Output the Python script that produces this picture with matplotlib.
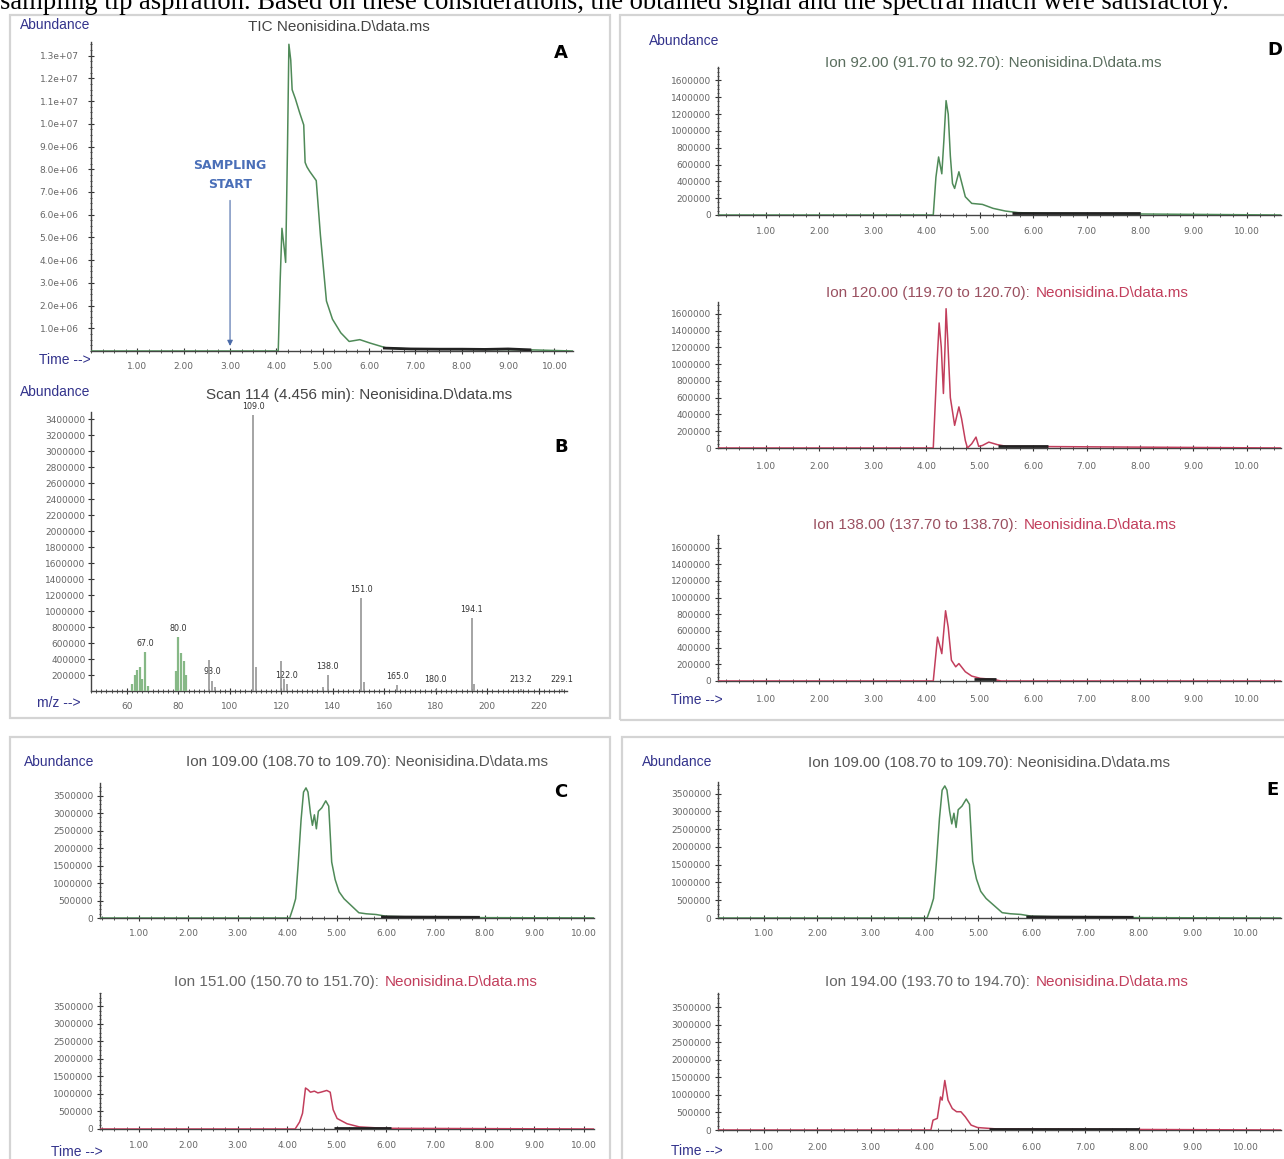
import numpy as np
import matplotlib
matplotlib.use('Agg')
import matplotlib.pyplot as plt
from matplotlib.ticker import MultipleLocator, AutoMinorLocator
from matplotlib.patches import Rectangle

# ---- data ----
# A: TIC
tic_t = [0.0, 4.04, 4.08, 4.12, 4.17, 4.20, 4.24, 4.27, 4.31, 4.34, 4.41, 4.50, 4.59, 4.62, 4.66, 4.72,
         4.86, 4.95, 5.08, 5.21, 5.39, 5.57, 5.80, 6.02, 6.38, 6.90, 7.50, 8.50, 9.50, 10.40]
tic_v = [0, 0, 3.0e6, 5.4e6, 4.5e6, 3.9e6, 9.0e6, 13.5e6, 12.8e6, 11.5e6, 11.1e6, 10.5e6, 9.95e6, 8.3e6, 8.1e6, 7.9e6,
         7.5e6, 5.1e6, 2.2e6, 1.4e6, 0.8e6, 0.42e6, 0.5e6, 0.35e6, 0.13e6, 0.09e6, 0.08e6, 0.07e6, 0.05e6, 0]
tic_dark_t = [6.3, 6.9, 7.5, 8.0, 8.5, 9.0, 9.5]
tic_dark_v = [0.13e6, 0.09e6, 0.08e6, 0.08e6, 0.07e6, 0.09e6, 0.05e6]

# B: mass spectrum, scan 114
mz = [62, 63, 64, 65, 66, 67, 68, 79, 80, 81, 82, 83, 92, 93, 94, 109, 110, 120, 121, 122,
      136, 138, 151, 152, 165, 180, 194, 195, 213, 229]
ab = [90e3, 200e3, 260e3, 300e3, 150e3, 487e3, 60e3, 250e3, 675e3, 470e3, 380e3, 200e3, 383e3, 130e3, 50e3,
      3.45e6, 300e3, 380e3, 150e3, 90e3, 50e3, 196e3, 1.167e6, 112e3, 70e3, 30e3, 917e3, 92e3, 30e3, 30e3]
green_mz = [62, 63, 64, 65, 66, 67, 68, 79, 80, 81, 82, 83]
peak_mz = [67, 80, 93, 109, 122, 138, 151, 165, 180, 194, 213, 229]
peak_lab = ['67.0', '80.0', '93.0', '109.0', '122.0', '138.0', '151.0', '165.0', '180.0', '194.1', '213.2', '229.1']

# D: ion 92, 120, 138
ion92_t = [0.1, 4.13, 4.18, 4.23, 4.29, 4.33, 4.37, 4.41, 4.45, 4.49, 4.53, 4.61, 4.65, 4.73, 4.85, 5.05,
           5.25, 5.48, 5.72, 6.20, 10.64]
ion92_v = [0, 0, 0.45e6, 0.69e6, 0.49e6, 0.9e6, 1.36e6, 1.2e6, 0.7e6, 0.375e6, 0.316e6, 0.514e6, 0.415e6,
           0.217e6, 0.138e6, 0.126e6, 0.079e6, 0.047e6, 0.028e6, 0.02e6, 0]
ion92_dark_t = [5.6, 8.0]
ion92_dark_v = [0.02e6, 0.02e6]

ion120_t = [0.1, 4.13, 4.20, 4.24, 4.28, 4.32, 4.35, 4.37, 4.40, 4.45, 4.53, 4.61, 4.66, 4.73, 4.77, 4.85,
            4.93, 4.98, 5.05, 5.17, 5.33, 5.50, 10.64]
ion120_v = [0, 0, 1.0e6, 1.49e6, 1.2e6, 0.65e6, 1.2e6, 1.66e6, 1.3e6, 0.6e6, 0.27e6, 0.49e6, 0.35e6, 0.09e6,
            0.0, 0.05e6, 0.13e6, 0.02e6, 0.03e6, 0.07e6, 0.04e6, 0.02e6, 0]
ion120_dark_t = [5.35, 6.28]
ion120_dark_v = [0.02e6, 0.02e6]

ion138_t = [0.1, 4.13, 4.21, 4.29, 4.36, 4.41, 4.47, 4.55, 4.61, 4.73, 4.85, 5.01, 5.25, 5.40, 10.64]
ion138_v = [0, 0, 0.526e6, 0.328e6, 0.842e6, 0.644e6, 0.249e6, 0.17e6, 0.209e6, 0.111e6, 0.059e6,
            0.032e6, 0.02e6, 0.0, 0]
ion138_dark_t = [4.9, 5.3]
ion138_dark_v = [0.02e6, 0.02e6]

# C and E: ion 109, 151, 194
ion109_t = [0.0, 4.05, 4.12, 4.17, 4.22, 4.28, 4.33, 4.38, 4.42, 4.47, 4.51, 4.55, 4.59, 4.63, 4.70, 4.78,
            4.84, 4.90, 4.97, 5.05, 5.15, 5.30, 5.45, 5.60, 5.80, 6.00, 6.50, 7.00, 8.00, 10.7]
ion109_v = [0, 0, 0.3e6, 0.55e6, 1.5e6, 2.8e6, 3.6e6, 3.72e6, 3.6e6, 3.0e6, 2.65e6, 2.95e6, 2.55e6, 3.05e6,
            3.15e6, 3.35e6, 3.2e6, 1.6e6, 1.1e6, 0.75e6, 0.55e6, 0.35e6, 0.15e6, 0.12e6, 0.1e6, 0.05e6,
            0.03e6, 0.02e6, 0.01e6, 0]
ion109_dark_t = [5.9, 7.9]
ion109_dark_v = [0.03e6, 0.02e6]

ion151_t = [0.2, 4.16, 4.25, 4.31, 4.37, 4.42, 4.47, 4.55, 4.62, 4.68, 4.80, 4.87, 4.93, 5.01, 5.21, 5.46,
            5.96, 10.2]
ion151_v = [0, 0, 0.2e6, 0.45e6, 1.17e6, 1.12e6, 1.05e6, 1.08e6, 1.03e6, 1.05e6, 1.1e6, 1.05e6, 0.55e6,
            0.3e6, 0.15e6, 0.06e6, 0.02e6, 0]
ion151_dark_t = [4.95, 6.1]
ion151_dark_v = [0.015e6, 0.015e6]

ion194_t = [0.15, 4.12, 4.16, 4.24, 4.30, 4.33, 4.38, 4.44, 4.52, 4.60, 4.68, 4.76, 4.87, 4.99, 5.35, 10.65]
ion194_v = [0, 0, 0.28e6, 0.33e6, 0.94e6, 0.85e6, 1.41e6, 0.85e6, 0.61e6, 0.52e6, 0.52e6, 0.38e6, 0.14e6,
            0.07e6, 0.03e6, 0]
ion194_dark_t = [5.2, 8.0]
ion194_dark_v = [0.015e6, 0.015e6]

time_ticks = [1, 2, 3, 4, 5, 6, 7, 8, 9, 10]
tic_yticks = [1e6 * k for k in range(1, 14)]
spec_yticks = [200000 * k for k in range(0, 18)]
d_yticks = [200000 * k for k in range(0, 9)]
ce_yticks = [500000 * k for k in range(0, 8)]

GREEN = '#4f8a58'
RED = '#c23e5c'
NAVY = '#33338c'
W, H = 1284, 1159

fig = plt.figure(figsize=(W / 100, H / 100), dpi=100)


def px_axes(l, t, r, b):
    return fig.add_axes([l / W, 1 - b / H, (r - l) / W, (b - t) / H])


def ftext(x, y, s, **kw):
    kw.setdefault('va', 'center')
    fig.text(x / W, 1 - y / H, s, **kw)


def style(ax, xpad, ypad, fs=6.5):
    for s in ['top', 'right']:
        ax.spines[s].set_visible(False)
    for s in ['left', 'bottom']:
        ax.spines[s].set_color('#444444')
        ax.spines[s].set_linewidth(1.0)
    ax.tick_params(axis='both', which='both', direction='inout', colors='#333333', labelcolor='#666666',
                   labelsize=fs)
    ax.tick_params(axis='x', which='major', length=4, pad=xpad)
    ax.tick_params(axis='x', which='minor', length=3)
    ax.tick_params(axis='y', which='major', length=4, pad=ypad)
    ax.tick_params(axis='y', which='minor', length=2)
    ax.patch.set_alpha(0)


def chrom(rect, xlim, ylim, yticks, ylabels, xpad, ypad):
    ax = px_axes(*rect)
    ax.set_xlim(*xlim)
    ax.set_ylim(*ylim)
    ax.set_xticks(time_ticks)
    ax.set_xticklabels(['%.2f' % v for v in time_ticks])
    ax.xaxis.set_minor_locator(MultipleLocator(0.25))
    ax.set_yticks(yticks)
    ax.set_yticklabels(ylabels)
    ax.yaxis.set_minor_locator(AutoMinorLocator(4))
    style(ax, xpad, ypad)
    return ax


def trace(ax, t, v, c, dt=None, dv=None):
    ax.plot(t, v, color=c, lw=1.1, zorder=5)
    if dt is not None:
        ax.plot(dt, dv, color='#222222', lw=2.0, zorder=6, solid_capstyle='butt')


# panel boxes
for (l, t, r, b) in [(10, 15, 610, 718), (620, 15, 1290, 720), (10, 737, 610, 1165), (622, 737, 1290, 1165)]:
    fig.patches.append(Rectangle((l / W, 1 - b / H), (r - l) / W, (b - t) / H, transform=fig.transFigure,
                                 fill=False, ec='#d4d4d4', lw=1.6))

# running sentence cut at the top
ftext(0, 9, 'sampling tip aspiration. Based on these considerations, the obtained signal and the spectral '
      'match were satisfactory.', family='Liberation Serif', fontsize=19.2, va='baseline', ha='left')

tf = dict(family='Liberation Sans', fontsize=11)
lf = dict(family='Liberation Sans', fontsize=10, color=NAVY)
bf = dict(family='DejaVu Sans', fontsize=13, fontweight='bold', ha='center')

# ---- A ----
axA = chrom((91, 42, 573, 351), (0, 10.4), (0, 1.36e7), tic_yticks,
            ['%.1fe+%02d' % (v / 10 ** int(np.log10(v)), int(np.log10(v))) for v in tic_yticks], 6, 7)
trace(axA, tic_t, tic_v, GREEN, tic_dark_t, tic_dark_v)
axA.annotate('', xy=(3.0, 0.1e6), xytext=(3.0, 6.75e6),
             arrowprops=dict(arrowstyle='-|>', color='#4a6aa8', lw=0.8, mutation_scale=8))
axA.text(3.0, 8.15e6, 'SAMPLING', color='#4a6fb8', fontsize=9, fontweight='bold', ha='center', va='center')
axA.text(3.0, 7.35e6, 'START', color='#4a6fb8', fontsize=9, fontweight='bold', ha='center', va='center')
ftext(55, 25, 'Abundance', ha='center', **lf)
ftext(339, 27, 'TIC Neonisidina.D\\data.ms', ha='center', color='#444444', **tf)
ftext(561, 53, 'A', **bf)
ftext(39, 360, 'Time -->', ha='left', **lf)

# ---- B ----
axB = px_axes(91, 412, 567, 691)
axB.set_xlim(46, 231)
axB.set_ylim(0, 3.49e6)
for m, a in zip(mz, ab):
    c = '#86b886' if m in green_mz else '#8c8c8c'
    axB.vlines(m, 0, a, colors=c, lw=1.6 if m in green_mz else 1.1, zorder=4)
for m, s in zip(peak_mz, peak_lab):
    a = ab[mz.index(m)]
    axB.annotate(s, (m, a), xytext=(0, 3), textcoords='offset points', ha='center', va='bottom',
                 fontsize=5.8, color='#333333', clip_on=False)
axB.set_xticks(range(60, 221, 20))
axB.xaxis.set_minor_locator(MultipleLocator(2))
axB.set_yticks(spec_yticks[1:])
axB.set_yticklabels([str(v) for v in spec_yticks[1:]])
style(axB, 6, 2)
ftext(55, 392, 'Abundance', ha='center', **lf)
ftext(359, 395, 'Scan 114 (4.456 min): Neonisidina.D\\data.ms', ha='center', color='#444444', **tf)
ftext(561, 447, 'B', **bf)
ftext(37, 703, 'm/z -->', ha='left', **lf)

# ---- C ----
axC1 = chrom((100, 783, 594, 918), (0.21, 10.21), (0, 3.86e6), ce_yticks, [str(v) for v in ce_yticks], 6, 3)
trace(axC1, ion109_t, ion109_v, GREEN, ion109_dark_t, ion109_dark_v)
axC2 = chrom((100, 993, 594, 1129), (0.21, 10.21), (0, 3.88e6), ce_yticks, [str(v) for v in ce_yticks], 7, 3)
trace(axC2, ion151_t, ion151_v, RED, ion151_dark_t, ion151_dark_v)
ftext(59, 762, 'Abundance', ha='center', **lf)
ftext(367, 762, 'Ion 109.00 (108.70 to 109.70): Neonisidina.D\\data.ms', ha='center', color='#555555', **tf)
ftext(383, 982, 'Ion 151.00 (150.70 to 151.70): ', ha='right', color='#666666', **tf)
ftext(385, 982, 'Neonisidina.D\\data.ms', ha='left', color=RED, **tf)
ftext(561, 792, 'C', **bf)
ftext(51, 1152, 'Time -->', ha='left', **lf)

# ---- D ----
dlab = [str(v) for v in d_yticks]
axD1 = chrom((718, 67, 1281, 215), (0.1, 10.64), (0, 1.76e6), d_yticks, dlab, 7, 3)
trace(axD1, ion92_t, ion92_v, GREEN, ion92_dark_t, ion92_dark_v)
axD2 = chrom((718, 302, 1281, 448), (0.1, 10.64), (0, 1.74e6), d_yticks, dlab, 8, 3)
trace(axD2, ion120_t, ion120_v, RED, ion120_dark_t, ion120_dark_v)
axD3 = chrom((718, 535, 1281, 681), (0.1, 10.64), (0, 1.75e6), d_yticks, dlab, 8, 3)
trace(axD3, ion138_t, ion138_v, RED, ion138_dark_t, ion138_dark_v)
ftext(684, 41, 'Abundance', ha='center', **lf)
ftext(993, 63, 'Ion 92.00 (91.70 to 92.70): Neonisidina.D\\data.ms', ha='center', color='#5a6e5e', **tf)
ftext(1034, 293, 'Ion 120.00 (119.70 to 120.70): ', ha='right', color='#9a5060', **tf)
ftext(1036, 293, 'Neonisidina.D\\data.ms', ha='left', color=RED, **tf)
ftext(1022, 525, 'Ion 138.00 (137.70 to 138.70): ', ha='right', color='#9a5060', **tf)
ftext(1024, 525, 'Neonisidina.D\\data.ms', ha='left', color=RED, **tf)
ftext(1275, 50, 'D', **bf)
ftext(671, 700, 'Time -->', ha='left', **lf)

# ---- E ----
axE1 = chrom((718, 782, 1281, 918), (0.15, 10.65), (0, 3.83e6), ce_yticks, [str(v) for v in ce_yticks], 6, 3)
trace(axE1, ion109_t, ion109_v, GREEN, ion109_dark_t, ion109_dark_v)
axE2 = chrom((718, 993, 1281, 1130), (0.15, 10.65), (0, 3.9e6), ce_yticks, [str(v) for v in ce_yticks], 7, 3)
trace(axE2, ion194_t, ion194_v, RED, ion194_dark_t, ion194_dark_v)
ftext(677, 762, 'Abundance', ha='center', **lf)
ftext(989, 763, 'Ion 109.00 (108.70 to 109.70): Neonisidina.D\\data.ms', ha='center', color='#555555', **tf)
ftext(1034, 982, 'Ion 194.00 (193.70 to 194.70): ', ha='right', color='#666666', **tf)
ftext(1036, 982, 'Neonisidina.D\\data.ms', ha='left', color=RED, **tf)
ftext(1272, 790, 'E', **bf)
ftext(671, 1151, 'Time -->', ha='left', **lf)

fig.savefig('out.png', dpi=100, facecolor='white')
